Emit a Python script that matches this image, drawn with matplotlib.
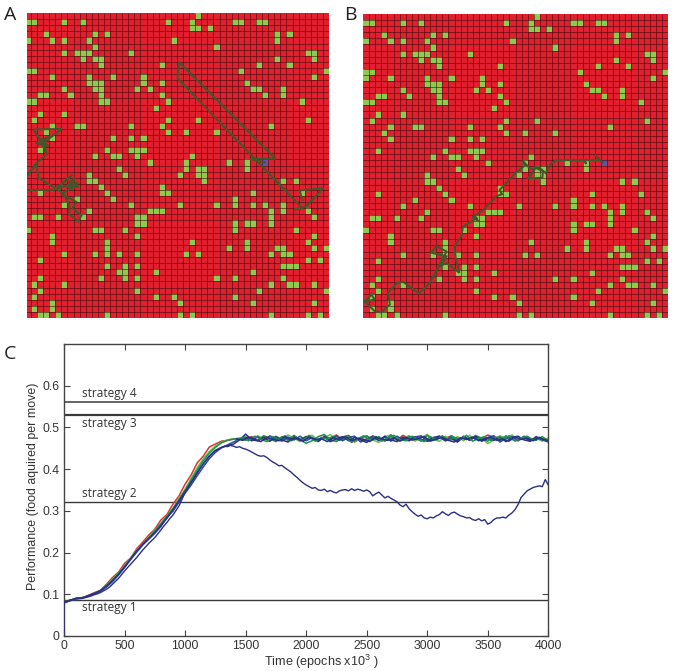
import numpy as np
import matplotlib
matplotlib.use("Agg")
import matplotlib.pyplot as plt
from matplotlib.colors import ListedColormap

W, H = 673, 671
plt.rcParams['mathtext.default'] = 'regular'

# green cells: row -> columns
food = {
0:[28],1:[0,1,6,9,23,27,34,35,38,39],2:[27,28,30],3:[3,11,13,41,43],4:[0,4,6,10,24,41],5:[11,31],
6:[6,8,9,10,17,46,47],7:[9,11,12,41,47],8:[12,22,38,43],9:[0,1,35,49],10:[4,10,14,19,47],
11:[10,11,12,19,22,36],12:[6,11,12,18,20,37,38,42],13:[2,3,7,12,22,39,42],14:[0,1,12,13,23,45],
15:[21],16:[2,6],17:[1,23,28,46],18:[4,8,9,17,22,40],19:[3,23,26,31],20:[4,14,17,19],
22:[2,13,17,18,19],23:[11,14,15,18,27],24:[20,26,33,36],25:[15,26,28,29,36],26:[10,16,25,28,29],
27:[10,11,29,42,44],28:[12,22],29:[2,13,22,23,37,45],30:[8,14,34],31:[6,17,25,31,34,37,39,42],
32:[10,20,21,22,40,42,46],33:[1,2,5,9,18,19,40,47],34:[18,19,34,36,37,40],35:[0,11,12,16,34,44],
36:[4,18,47],37:[4,13,27,36,46],38:[13,33,36,41,42,47,49],39:[6,11,13,15,18,26,28,40,42,43],
40:[2,46,48],41:[13,16,18,42,43,44],42:[15,16,21,37],43:[2,12,16,18,31,34,42],
44:[1,6,40,43,44,47],45:[2,18,38,49],46:[1,21,24,34],47:[4,25,37,47],48:[1,4],
49:[2,3,5,13,25,27,40,46,48]}
extra_b = [(10, 0)]

trail_a_cols = [39.5,36.9,41.2,25.3,25.1,45.6,44.3,46.1,49.1,45.2,45.6,np.nan,
                0.3,4.8,7.8,5.3,8.8,7.3,8.3,6.8,8.8,7.3,7.8,6.3,7.3,7.3,8.8,9.3,7.8,8.5,6.6,5.8,2.2,1.9,0.3,np.nan,
                0.3,2.0,3.6,2.8,1.4,6.1,2.8,4.2,1.8,3.9,2.7,3.6]
trail_a_rows = [24.5,23.9,23.9,8.0,10.7,32,32.2,31.8,28.7,29.1,30.7,np.nan,
                29,29,26.5,28.8,27.8,29,27,28.5,28.5,27.5,28.6,29.5,31.5,33,34.2,33.2,32,31,30,29.2,27,24.6,26.8,np.nan,
                26.8,24.5,23.2,21.3,19.1,19,21.5,20.2,21.3,21.9,20.5,23]
trail_b_cols = [39.3,38.8,38.0,38.8,36.3,36.6,36.1,31.7,30.9,29.9,29,28.1,29.5,29.4,27,28.1,27.3,26.2,26.5,25.1,
                22.4,22.8,21.9,19.7,18.3,18.9,17.9,18.7,16.4,16.1,15,15.2,15.8,13.7,12.6,13.7,11.2,12,13.7,12.6,
                10.9,9.2,6.6,5.5,4.1,4.4,3,1.9,0.3,1.4,1.9,0.3]
trail_b_rows = [24.4,24,23.1,24,24,24.6,24,24,24.5,26.1,25.3,25.2,25.8,26.9,27,25.6,25.3,24.1,24.9,26,
                28.9,29.6,29.9,32.2,33.1,34,33.3,33.5,34.9,36.5,38.1,40.1,42.5,40.9,41.4,39.8,39.2,38.1,39,41.1,
                44.2,45.9,44,44.2,45.8,47.7,49,48.8,47.2,46.1,46.9,47.2]
start_cell = (39, 24)

# Panel C data
strategy_levels = [0.087, 0.322, 0.53, 0.56]
strategy_names = ['strategy 1', 'strategy 2', 'strategy 3', 'strategy 4']
strategy_label_y = [0.068, 0.342, 0.509, 0.581]
strategy_widths = [1.0, 1.0, 1.6, 1.1]

epochs_50 = list(range(0, 4001, 50))
red_vals = [.082,.085,.091,.092,.097,.104,.109,.124,.140,.153,.174,.187,.209,.225,.242,.256,.278,.291,.316,.336,.364,.386,.415,.431,.453,.460,.467,.469,.472,.474,
 .473,.478,.469,.480,.474,.468,.477,.471,.480,.469,.478,.473,.467,.479,.473,.482,.470,.478,.465,.474,.469,.480,.473,.468,.478,.470,.481,.474,.468,.478,.473,.469,.479,.474,.480,.468,.477,.470,.479,.473,.482,.476,.469,.474,.480,.470,.477,.468,.476,.471,.472]
lgreen_vals = [.080,.086,.090,.091,.096,.102,.109,.121,.135,.151,.168,.187,.206,.221,.236,.254,.270,.288,.306,.330,.352,.378,.403,.425,.442,.455,.464,.470,.473,.472,
 .478,.468,.480,.473,.467,.479,.470,.482,.474,.466,.478,.481,.469,.475,.483,.468,.473,.479,.466,.474,.480,.470,.464,.478,.482,.469,.474,.480,.468,.475,.483,.471,.467,.479,.470,.478,.468,.481,.471,.475,.461,.470,.480,.474,.482,.468,.478,.470,.474,.467,.475]
dgreen_vals = [.081,.084,.089,.092,.095,.101,.108,.119,.134,.150,.167,.184,.202,.219,.235,.252,.269,.287,.305,.326,.349,.374,.398,.420,.438,.452,.463,.469,.472,.473,
 .469,.477,.468,.479,.473,.466,.478,.469,.481,.470,.462,.468,.478,.483,.470,.466,.477,.481,.468,.474,.480,.470,.478,.467,.482,.471,.469,.479,.474,.467,.481,.470,.478,.468,.480,.471,.477,.469,.481,.474,.467,.478,.470,.480,.471,.468,.479,.474,.469,.478,.468]
blue_vals = [.079,.085,.089,.090,.096,.101,.107,.117,.130,.146,.164,.183,.201,.218,.232,.246,.262,.285,.299,.321,.342,.362,.384,.405,.425,.440,.451,.458,.465,.472,
 .476,.468,.478,.469,.480,.473,.467,.477,.470,.479,.468,.476,.466,.478,.470,.480,.468,.476,.479,.465,.473,.478,.469,.477,.467,.479,.471,.468,.477,.480,.467,.470,.478,.469,.476,.466,.479,.470,.477,.468,.476,.480,.465,.473,.478,.469,.477,.467,.476,.470,.465]
blue2_vals = [.080,.086,.090,.091,.097,.102,.109,.120,.133,.148,.165,.185,.204,.220,.234,.248,.265,.282,.303,.325,.346,.368,.392,.413,.431,.445,.452,.456,.460,.470,
 .484,.470,.468,.476,.467,.478,.470,.465,.476,.469,.478,.473,.468,.477,.466,.473,.478,.468,.476,.470,.464,.476,.469,.479,.470,.466,.477,.469,.478,.471,.467,.476,.479,.468,.473,.465,.477,.470,.478,.467,.473,.469,.477,.466,.476,.479,.470,.467,.478,.471,.468]
plateau_epochs = list(range(1425, 3976, 50))
plateau_green = [.470,.476,.468,.479,.472,.466,.478,.471,.480,.468,.475,.470,.481,.467,.476,.472,.479,.469,.477,.464,.473,.480,.470,.478,.467,.476,.481,.471,.468,.479,
 .473,.466,.478,.470,.480,.469,.476,.472,.481,.467,.474,.478,.469,.477,.471,.480,.467,.475,.479,.470,.476,.469]
plateau_navy = [.473,.469,.477,.471,.466,.476,.472,.468,.478,.470,.475,.467,.477,.471,.473,.466,.476,.470,.478,.468,.474,.471,.466,.477,.472,.469,.475,.467,.476,.470,
 .473,.478,.467,.472,.476,.469,.465,.475,.471,.477,.468,.473,.476,.469,.472,.467,.478,.471,.474,.468,.476,.470]

epochs_25 = list(range(0, 4001, 25))
navy_rise = [.081,.083,.086,.087,.090,.091,.091,.092,.094,.096,.099,.101,.104,.108,.112,.117,.124,.131,.138,.147,.156,.164,.172,.180,.188,.197,.206,.214,.222,.229,.236,.245,.254,.264,.272,.282,.290,.301,.312,.328,.345]
navy_mid = [.356,.368,.378,.390,.402,.412,.422,.431,.438,.444,.448,.452,.455,.454,.457,.455,.452,.454,.450,.448,.445,.441,.437,.433,.431,.432,.428,.422,.417,.413,.408,.409,.403,.398,.393,.386,.380,.373,.367,.362]
navy_late = [.358,.354,.356,.350,.349,.352,.346,.349,.345,.343,.348,.350,.351,.348,.353,.349,.352,.350,.347,.350,.346,.336,.341,.345,.338,.331,.335,.330,.326,.322,.314,.310,.316,.305,.298,.292,.287,.290,.283,.281]
navy_end = [.285,.283,.288,.291,.298,.293,.289,.295,.297,.292,.288,.286,.283,.284,.279,.277,.281,.276,.279,.268,.272,.279,.283,.283,.285,.283,.290,.295,.303,.315,.332,.340,.348,.352,.356,.358,.360,.358,.375,.362]
series_colors = ['#d8382f', '#6cbf45', '#1f8f55', '#2a4aa0', '#2b2f86']

def fx(p): return p / W
def fy(p): return 1 - p / H

def grid_panel(rect, extra, cols, rows, x0):
    l, t, r, b = rect
    ax = fig.add_axes([fx(l), fy(b), fx(r - l), (b - t) / H])
    z = np.zeros((50, 50))
    for rw, cs in food.items():
        for c in cs:
            z[rw, c] = 1
    for rw, c in extra:
        z[rw, c] = 1
    z[start_cell[1], start_cell[0]] = 2
    cmap = ListedColormap(['#e0202e', '#8fca4e', '#5a55b0'])
    ax.pcolormesh(np.arange(51), np.arange(51), z, cmap=cmap, vmin=0, vmax=2, shading='flat')
    ax.vlines(np.arange(1, 50), 0, 50, color='#3a0508', lw=0.65, alpha=0.6)
    ax.hlines(np.arange(1, 50), 0, 50, color='#3a0508', lw=0.65, alpha=0.6)
    ax.plot(cols, rows, color='#42562c', lw=1.4, solid_joinstyle='miter')
    ax.set_xlim(x0, 50)
    ax.set_ylim(50, 0)
    ax.axis('off')
    return ax

fig = plt.figure(figsize=(W / 100, H / 100), dpi=100)
grid_panel((26.5, 13, 329, 318), [], trail_a_cols, trail_a_rows, 0.27)
grid_panel((363, 14, 668, 318.5), extra_b, trail_b_cols, trail_b_rows, 0)

ax = fig.add_axes([fx(64), fy(636), fx(548.3 - 64), (636 - 344) / H])
for lv, w in zip(strategy_levels, strategy_widths):
    ax.axhline(lv, color='#3a3a3a', lw=w, zorder=1)
for lab, ly in zip(strategy_names, strategy_label_y):
    ax.text(150, ly, lab, fontsize=8.6, family='Open Sans', color='#333333', va='center', ha='left')
for vals, col in zip([red_vals, lgreen_vals, dgreen_vals, blue_vals, blue2_vals], series_colors):
    ax.plot([0] + epochs_50, [0] + vals, color=col, lw=1.1, zorder=2)
ax.plot(plateau_epochs, plateau_green, color='#1f8f55', lw=1.1, zorder=2)
ax.plot(plateau_epochs, plateau_navy, color='#2b2f86', lw=1.1, zorder=2)
navy_vals = navy_rise + navy_mid + navy_late + navy_end
ax.plot([0] + epochs_25, [0] + navy_vals, color=series_colors[4], lw=1.0, zorder=3)
ax.set_xlim(0, 4000)
ax.set_ylim(0, 0.7)
ax.set_xticks(range(0, 4001, 500))
ax.set_yticks([0, .1, .2, .3, .4, .5, .6])
ax.set_yticklabels(['0', '0.1', '0.2', '0.3', '0.4', '0.5', '0.6'])
ax.tick_params(direction='in', top=True, right=True, length=4, width=0.8, color='#444444',
               labelsize=8.8, labelcolor='#333333', pad=3)
for lab in ax.get_xticklabels() + ax.get_yticklabels():
    lab.set_family('Liberation Sans')
for s in ax.spines.values():
    s.set_color('#444444')
    s.set_linewidth(1.0)
ax.set_xlabel('Time (epochs x10$^{3}$ )', fontsize=9.1, family='Liberation Sans', color='#333333')
ax.xaxis.set_label_coords((321 - 64) / (548.3 - 64), -(661.5 - 636) / 292, transform=ax.transAxes)
ax.xaxis.label.set_va('center')
ax.set_ylabel('Performance (food aquired per move)', fontsize=8.9, family='Liberation Sans', color='#333333')
ax.yaxis.set_label_coords(-(64 - 33) / (548.3 - 64), (636 - 486.5) / 292, transform=ax.transAxes)
ax.yaxis.label.set_va('center')

for s, x, y in [('A', 3.5, 20), ('B', 344, 20), ('C', 3.5, 359)]:
    fig.text(x / W, 1 - y / H, s, fontsize=14, family='Open Sans', color='#222222', va='baseline', ha='left')

fig.savefig('out.png', dpi=100)
